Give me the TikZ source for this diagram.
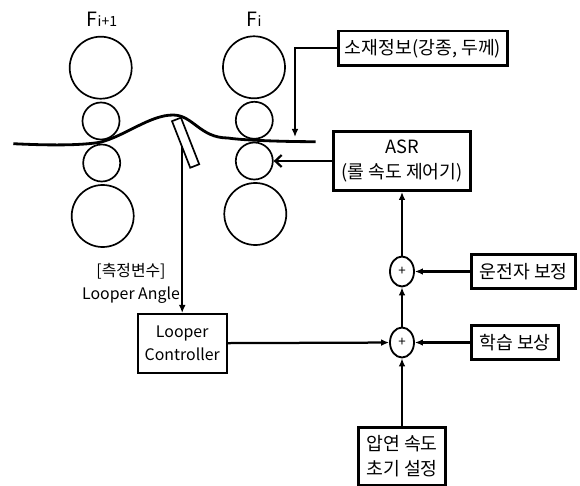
\documentclass[tikz,border=0pt]{standalone}
\usepackage{fontspec}
\setmainfont{Noto Sans CJK KR}
\usetikzlibrary{shapes.geometric,arrows.meta}
\tikzset{
  bigroll/.style={draw, circle, line width=1.2pt, minimum size=1.55cm, inner sep=0pt},
  smallroll/.style={draw, circle, line width=1.2pt, minimum size=0.925cm, inner sep=0pt},
  boldbox/.style={draw, rectangle, line width=1.9pt, align=center, inner sep=0pt, font=\fontsize{13}{17.5}\selectfont},
  thinbox/.style={draw, rectangle, line width=1.3pt, align=center, inner sep=0pt, font=\fontsize{11.3}{16.5}\selectfont},
  sumnode/.style={draw, ellipse, line width=1.3pt, minimum width=0.6cm, minimum height=0.75cm, inner sep=0pt, font=\fontsize{9.5}{9.5}\selectfont},
  link/.style={line width=1.6pt, -{Latex[length=2mm,width=1.7mm]}},
  plainlabel/.style={align=center, font=\fontsize{11.3}{16.5}\selectfont},
}
\begin{document}
\begin{tikzpicture}[x=0.025cm,y=-0.025cm]
\useasboundingbox (0,0) rectangle (580,486);
\node[bigroll] (a1) at (100.7,67.7) {};
\node[smallroll] (a2) at (101,121) {};
\node[smallroll] (a3) at (101.7,163) {};
\node[bigroll] (a4) at (102.7,216) {};
\node[bigroll] (b1) at (254,67.3) {};
\node[smallroll] (b2) at (254.3,120.3) {};
\node[smallroll] (b3) at (254.3,161) {};
\node[bigroll] (b4) at (255.3,214) {};
\node[plainlabel] (fa) at (102,19) {\fontsize{14}{14}\selectfont F\fontsize{10}{10}\selectfont i+1};
\node[plainlabel] (fb) at (254,19) {\fontsize{14}{14}\selectfont F\fontsize{10}{10}\selectfont i};
\draw[line width=2pt] (13.3,143.7) .. controls (50,145.5) and (80,145.5) .. (100,142.3)
  .. controls (125,136) and (150,115) .. (173,115)
  .. controls (193,115) and (200,138) .. (228,138)
  .. controls (240,140) and (280,141.7) .. (315.7,141.7);
\node[draw, rectangle, line width=1.2pt, fill=white, minimum width=1.25cm, minimum height=0.24cm, inner sep=0pt, rotate=-68.6] (arm) at (185.6,142.7) {};
\coordinate (tap) at (182.2,146);
\coordinate (feed) at (295,137);
\node[boldbox, minimum width=4.23cm, minimum height=0.87cm] (info) at (423,48.3) {소재정보(강종, 두께)};
\node[boldbox, minimum width=3.44cm, minimum height=1.48cm] (asr) at (402,161) {ASR\\(롤 속도 제어기)};
\node[sumnode] (s1) at (402,271.5) {+};
\node[sumnode] (s2) at (402,342.5) {+};
\node[boldbox, minimum width=2.6cm, minimum height=0.86cm] (drv) at (523.7,271.5) {운전자 보정};
\node[boldbox, minimum width=2.17cm, minimum height=0.86cm] (lrn) at (515,342.5) {학습 보상};
\node[boldbox, minimum width=2.17cm, minimum height=1.44cm] (init) at (402,456.2) {압연 속도\\초기 설정};
\node[thinbox, minimum width=2.22cm, minimum height=1.47cm] (ctrl) at (182.2,343.3) {Looper\\Controller};
\node[plainlabel] (meas) at (131,283) {[측정변수]\\Looper Angle};
\draw[line width=1.3pt, -{Latex[length=2mm,width=1.7mm]}] (tap) -- (ctrl);
\draw[link] (ctrl) -- (s2);
\draw[link] (lrn) -- (s2);
\draw[link] (init) -- (s2);
\draw[link] (s2) -- (s1);
\draw[link] (drv) -- (s1);
\draw[link] (s1) -- (asr);
\draw[line width=1.6pt, -{Straight Barb[length=1.6mm,width=3mm]}] (asr) -- (b3);
\draw[link] (info) -| (feed);
\end{tikzpicture}
\end{document}
